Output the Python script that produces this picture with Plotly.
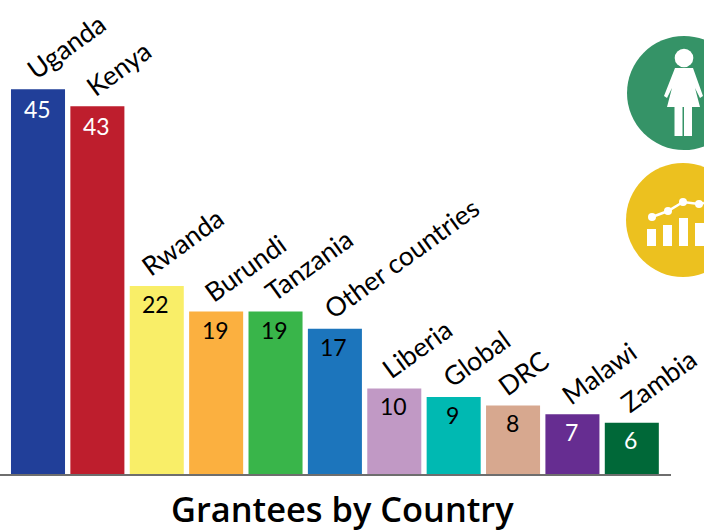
import plotly.graph_objects as go

categories = ["Uganda", "Kenya", "Rwanda", "Burundi", "Tanzania", "Other countries",
              "Liberia", "Global", "DRC", "Malawi", "Zambia"]
grantees = [45, 43, 22, 19, 19, 17, 10, 9, 8, 7, 6]
bar_colors = ["#213F99", "#BE1E2D", "#F9EE68", "#FBB040", "#39B54A", "#1C75BC",
              "#C199C5", "#00B9B2", "#D7A88F", "#662D91", "#006838"]
value_colors = ["white", "white", "black", "black", "black", "black",
                "black", "black", "black", "white", "white"]
title = "Grantees by Country"

W, H, BASE, RIGHT = 704, 532, 474, 671
FONT = "Lato"
LABEL_NUDGE = {"Rwanda": -5, "DRC": -5, "Liberia": -2, "Burundi": -1, "Zambia": -1}


def px(x):
    return x / RIGHT


def py(y):
    return (BASE - y) / BASE


def circle(cx, cy, r, color):
    return dict(type="circle", xref="paper", yref="paper", x0=px(cx - r), x1=px(cx + r),
                y0=py(cy + r), y1=py(cy - r), fillcolor=color, line_width=0, layer="above")


def path(points, color="white"):
    d = "M " + " L ".join(f"{px(x):.5f},{py(y):.5f}" for x, y in points) + " Z"
    return dict(type="path", xref="paper", yref="paper", path=d, fillcolor=color,
                line_width=0, layer="above")


def bar(x0, x1, y0, y1):
    return dict(type="rect", xref="paper", yref="paper", x0=px(x0), x1=px(x1), y0=py(y1), y1=py(y0),
                fillcolor="white", line_width=0, layer="above")


shapes = [
    circle(684, 93, 57, "#359367"),
    circle(684, 58, 9.3, "white"),
    path([(675, 68), (693, 68), (703, 96), (700, 98), (695, 88), (700, 107), (667, 107), (672, 88),
          (667, 98), (664, 96)]),
    bar(674.5, 682.5, 106, 136), bar(684, 692, 106, 136),
    circle(683, 220, 57, "#ECC11F"),
    bar(647, 656, 229, 246), bar(663, 672, 225, 246), bar(679, 688, 218, 246), bar(695, 704, 223, 246),
    dict(type="path", xref="paper", yref="paper",
         path="M " + " L ".join(f"{px(x):.5f},{py(y):.5f}" for x, y in
                                [(652, 217), (668, 211), (683, 202), (699, 204), (704, 203)]),
         line=dict(color="white", width=2.5), layer="above"),
    circle(652, 217, 4, "white"), circle(668, 211, 4, "white"),
    circle(683, 202, 4, "white"), circle(699, 204, 4, "white"),
]

fig = go.Figure(go.Bar(
    x=list(range(len(categories))), y=grantees, width=0.91,
    marker=dict(color=bar_colors, line_width=0),
    hoverinfo="skip",
))

annotations = [
    dict(x=i - 0.46, y=v, xref="x", yref="y", text=c, showarrow=False, textangle=-36,
         xanchor="left", yanchor="bottom", yshift=1, xshift=8 + LABEL_NUDGE.get(c, 0),
         font=dict(family=FONT, size=26.5, color="black"))
    for i, (c, v) in enumerate(zip(categories, grantees))
]
annotations += [
    dict(x=i, y=v, xref="x", yref="y", text=str(v), showarrow=False, xanchor="center", yanchor="middle",
         yshift=-(17 + v * 0.07), xshift=-1, font=dict(family=FONT, size=23, color=col))
    for i, (v, col) in enumerate(zip(grantees, value_colors))
]
annotations.append(dict(x=px(343), y=py(508), xref="paper", yref="paper", text=title, showarrow=False,
                        xanchor="center", yanchor="middle",
                        font=dict(family="Open Sans", size=34.4, color="black", weight=600)))

fig.update_layout(
    width=W, height=H, autosize=False, showlegend=False,
    margin=dict(l=0, r=W - RIGHT, t=0, b=H - BASE, pad=0),
    paper_bgcolor="white", plot_bgcolor="white",
    xaxis=dict(range=[-0.64, 10.66], showgrid=False, zeroline=False, showticklabels=False, ticks="",
               showline=True, linecolor="#6E6E6E", linewidth=2),
    yaxis=dict(range=[0, BASE / 8.55], showgrid=False, zeroline=False, visible=False),
    shapes=shapes, annotations=annotations,
)
fig.write_html("out.html", config=dict(displayModeBar=False),
               post_script="document.body.style.margin='0';document.body.style.overflow='hidden';")
